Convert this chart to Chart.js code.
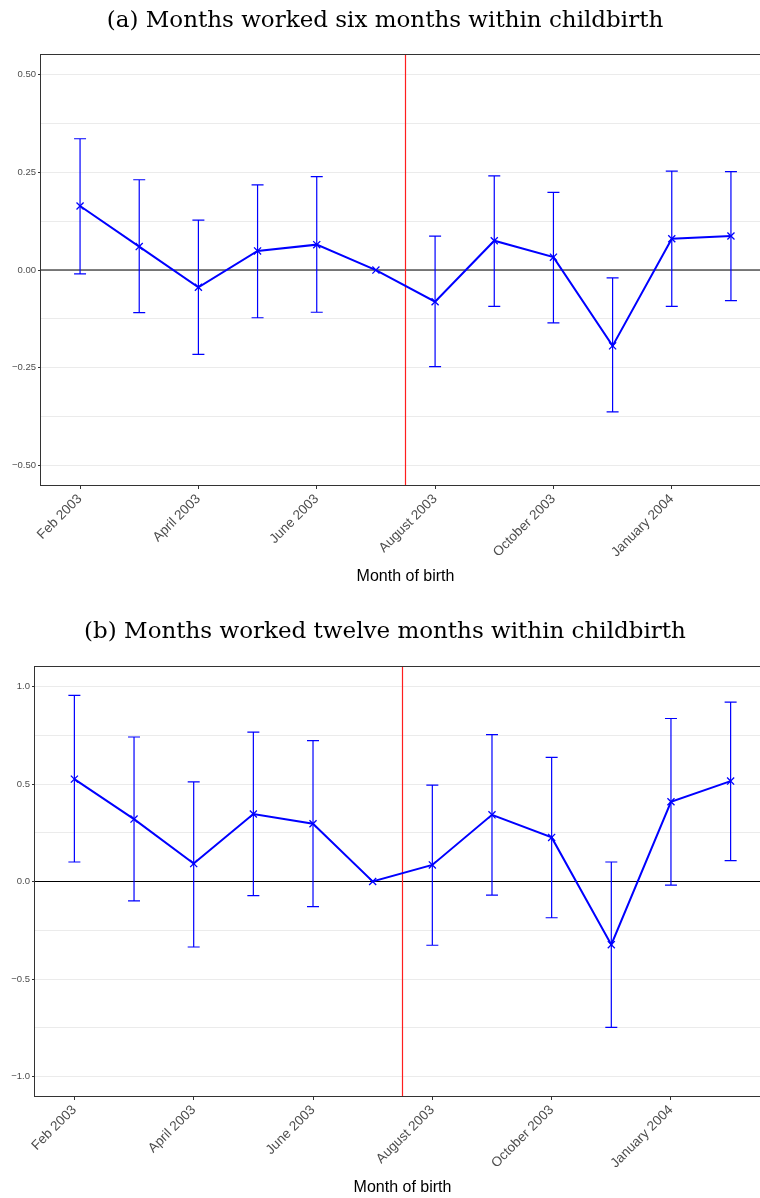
<!DOCTYPE html>
<html>
<head>
<meta charset="utf-8">
<script src="https://cdn.jsdelivr.net/npm/chart.js@4.4.1/dist/chart.umd.min.js"></script>
<style>
  html, body { margin: 0; padding: 0; background: #ffffff; }
  #page { width: 760px; height: 1198px; overflow: hidden; position: relative; background: #ffffff; }
  canvas { display: block; position: absolute; left: 0; }
</style>
</head>
<body>
<div id="page">
  <canvas id="panelSix" width="780" height="598" style="top:0px"></canvas>
  <canvas id="panelTwelve" width="780" height="600" style="top:598px"></canvas>
</div>
<script>
// Month-of-birth positions (0 = Feb 2003 ... 11) and the labelled ones
const tickPositions = [0, 2, 4, 6, 8, 10];
const tickLabels = ["Feb 2003", "April 2003", "June 2003", "August 2003", "October 2003", "January 2004"];
const cutoff = 5.5;                       // policy cut-off between July and August 2003

// (a) months worked six months within childbirth: estimate and 95% interval
const estSix   = [0.164, 0.060, -0.044, 0.049, 0.065, 0, -0.081, 0.075, 0.033, -0.194, 0.080, 0.087];
const lowerSix = [-0.010, -0.109, -0.216, -0.122, -0.108, null, -0.247, -0.093, -0.135, -0.363, -0.093, -0.078];
const upperSix = [0.336, 0.231, 0.128, 0.218, 0.239, null, 0.087, 0.241, 0.199, -0.020, 0.253, 0.252];
const yTicksSix  = [-0.5, -0.375, -0.25, -0.125, 0, 0.125, 0.25, 0.375, 0.5];
const yLabelsSix = ["\u22120.50", "", "\u22120.25", "", "0.00", "", "0.25", "", "0.50"];

// (b) months worked twelve months within childbirth
const estTwelve   = [0.525, 0.320, 0.092, 0.346, 0.296, 0, 0.085, 0.342, 0.226, -0.324, 0.409, 0.515];
const lowerTwelve = [0.100, -0.099, -0.336, -0.072, -0.129, null, -0.327, -0.070, -0.186, -0.748, -0.019, 0.107];
const upperTwelve = [0.954, 0.741, 0.511, 0.766, 0.722, null, 0.494, 0.753, 0.637, 0.100, 0.836, 0.920];
const yTicksTwelve  = [-1, -0.75, -0.5, -0.25, 0, 0.25, 0.5, 0.75, 1];
const yLabelsTwelve = ["\u22121.0", "", "\u22120.5", "", "0.0", "", "0.5", "", "1.0"];

// zero line, error bars, cut-off line and the panel frame
const panelDecor = {
  id: 'panelDecor',
  beforeDatasetsDraw(chart, args, opts) {
    const { ctx, chartArea: a, scales: { x, y } } = chart;
    ctx.save();
    ctx.beginPath();
    ctx.rect(a.left, a.top, a.right - a.left, a.bottom - a.top);
    ctx.clip();

    const y0 = y.getPixelForValue(0);
    ctx.strokeStyle = '#000000';
    ctx.lineWidth = 1.1;
    ctx.beginPath();
    ctx.moveTo(a.left, y0);
    ctx.lineTo(a.right, y0);
    ctx.stroke();

    ctx.strokeStyle = '#0000ff';
    ctx.lineWidth = 1.2;
    const half = 6;
    opts.lower.forEach((lo, i) => {
      const hi = opts.upper[i];
      if (lo === null || hi === null) return;
      const px = x.getPixelForValue(i);
      const pl = y.getPixelForValue(lo);
      const ph = y.getPixelForValue(hi);
      ctx.beginPath();
      ctx.moveTo(px, pl); ctx.lineTo(px, ph);
      ctx.moveTo(px - half, pl); ctx.lineTo(px + half, pl);
      ctx.moveTo(px - half, ph); ctx.lineTo(px + half, ph);
      ctx.stroke();
    });

    const xc = x.getPixelForValue(opts.cutoff);
    ctx.strokeStyle = 'rgb(255, 30, 30)';
    ctx.lineWidth = 1.2;
    ctx.beginPath();
    ctx.moveTo(xc, a.top);
    ctx.lineTo(xc, a.bottom);
    ctx.stroke();
    ctx.restore();
  },
  afterDraw(chart) {
    const { ctx, chartArea: a } = chart;
    ctx.save();
    ctx.strokeStyle = '#333333';
    ctx.lineWidth = 1;
    ctx.strokeRect(Math.round(a.left) - 0.5, Math.round(a.top) - 0.5,
                   Math.round(a.right - a.left) + 1, Math.round(a.bottom - a.top) + 1);
    ctx.restore();
  }
};

function makePanel(canvasId, cfg) {
  return new Chart(document.getElementById(canvasId), {
    type: 'line',
    data: {
      datasets: [{
        data: cfg.est.map((v, i) => ({ x: i, y: v })),
        borderColor: '#0000ff',
        borderWidth: 2,
        pointStyle: 'crossRot',
        pointRadius: 5,
        pointBorderWidth: 1.3,
        pointBorderColor: '#0000ff',
        pointBackgroundColor: '#0000ff',
        tension: 0,
        fill: false
      }]
    },
    options: {
      responsive: false,
      animation: false,
      devicePixelRatio: 1,
      layout: { padding: { left: 0, right: 10, top: 0, bottom: 0 } },
      plugins: {
        legend: { display: false },
        tooltip: { enabled: false },
        title: {
          display: true,
          text: cfg.title,
          color: '#000000',
          font: { family: 'DejaVu Serif', size: 23, weight: 'normal', lineHeight: 1.2 },
          padding: cfg.titlePadding
        },
        panelDecor: { cutoff: cutoff, lower: cfg.lower, upper: cfg.upper }
      },
      scales: {
        x: {
          type: 'linear',
          min: -0.66,
          max: 11.66,
          afterBuildTicks: s => { s.ticks = tickPositions.map(v => ({ value: v })); },
          afterFit: s => { s.height = cfg.xAxisHeight; },
          ticks: {
            autoSkip: false,
            maxRotation: 45,
            minRotation: 45,
            padding: 2,
            color: '#4d4d4d',
            font: { family: 'Liberation Sans', size: 13.5 },
            callback: (v, i) => tickLabels[i]
          },
          grid: { drawOnChartArea: false, drawTicks: true, tickLength: 4, tickColor: '#333333', tickWidth: 1 },
          border: { display: false },
          title: {
            display: true,
            text: 'Month of birth',
            color: '#000000',
            font: { family: 'Liberation Sans', size: 16, lineHeight: 1.2 },
            padding: { top: 0, bottom: cfg.axisTitlePad }
          }
        },
        y: {
          min: cfg.yMin,
          max: cfg.yMax,
          afterBuildTicks: s => { s.ticks = cfg.yTicks.map(v => ({ value: v })); },
          afterFit: s => { s.width = cfg.yWidth; },
          ticks: {
            autoSkip: false,
            padding: 2,
            color: '#4d4d4d',
            font: { family: 'Liberation Sans', size: 9.5 },
            callback: (v, i) => cfg.yLabels[i]
          },
          grid: {
            color: '#ebebeb',
            lineWidth: 1,
            tickLength: 3,
            tickColor: c => (cfg.yLabels[c.index] ? '#333333' : 'rgba(0,0,0,0)')
          },
          border: { display: false }
        }
      }
    },
    plugins: [panelDecor]
  });
}

makePanel('panelSix', {
  title: '(a) Months worked six months within childbirth',
  titlePadding: { top: 7.5, bottom: 20 },
  est: estSix, lower: lowerSix, upper: upperSix,
  yTicks: yTicksSix, yLabels: yLabelsSix,
  yMin: -0.55, yMax: 0.55, yWidth: 41,
  xAxisHeight: 113, axisTitlePad: 12
});

makePanel('panelTwelve', {
  title: '(b) Months worked twelve months within childbirth',
  titlePadding: { top: 19.8, bottom: 21.6 },
  est: estTwelve, lower: lowerTwelve, upper: upperTwelve,
  yTicks: yTicksTwelve, yLabels: yLabelsTwelve,
  yMin: -1.1, yMax: 1.1, yWidth: 35,
  xAxisHeight: 102, axisTitlePad: 1
});
</script>
</body>
</html>
